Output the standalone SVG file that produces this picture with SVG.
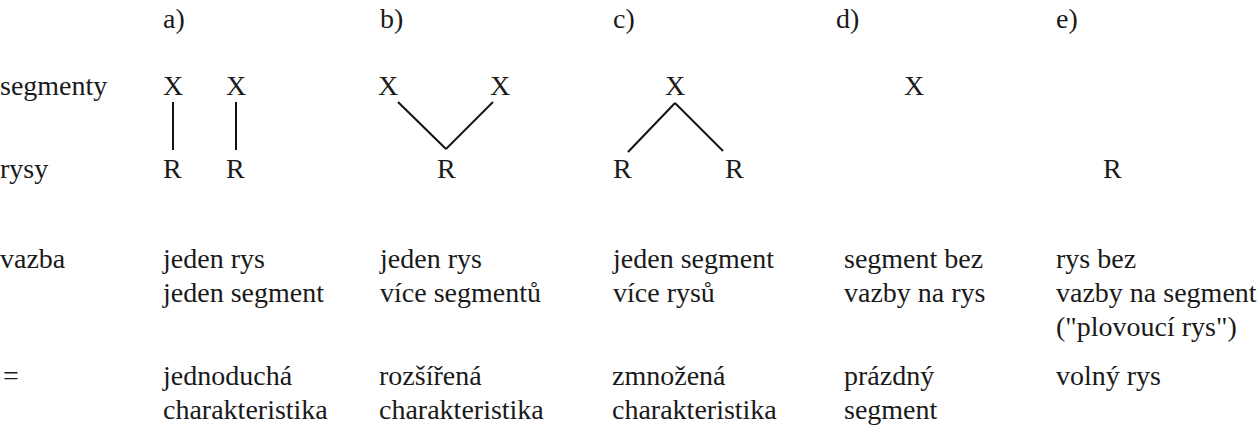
<svg xmlns="http://www.w3.org/2000/svg" width="1258" height="429" viewBox="0 0 1258 429">
<style>
text{font-size:28px;fill:#1a1a1a}
.c line{stroke:#111;stroke-width:2;fill:none}
</style>
<rect width="1258" height="429" fill="#fff"/>
<g id="labels" font-family="Times New Roman">
<text x="0" y="95">segmenty</text>
<text x="0" y="178">rysy</text>
<text x="0" y="268">vazba</text>
<text x="3" y="385">=</text>
</g>
<g id="col-a" font-family="Times New Roman">
<text x="163" y="28">a)</text>
<text x="163" y="95">X</text>
<text x="226" y="95">X</text>
<text x="163" y="178">R</text>
<text x="226" y="178">R</text>
<text x="163" y="268">jeden rys</text>
<text x="163" y="302">jeden segment</text>
<text x="163" y="385">jednoduchá</text>
<text x="163" y="419">charakteristika</text>
</g>
<g id="col-b" font-family="Times New Roman">
<text x="380" y="28">b)</text>
<text x="378" y="95">X</text>
<text x="490" y="95">X</text>
<text x="437" y="178">R</text>
<text x="380" y="268">jeden rys</text>
<text x="380" y="302">více segmentů</text>
<text x="379" y="385">rozšířená</text>
<text x="379" y="419">charakteristika</text>
</g>
<g id="col-c" font-family="Times New Roman">
<text x="613" y="28">c)</text>
<text x="665" y="95">X</text>
<text x="613" y="178">R</text>
<text x="725" y="178">R</text>
<text x="613" y="268">jeden segment</text>
<text x="613" y="302">více rysů</text>
<text x="612" y="385">zmnožená</text>
<text x="612" y="419">charakteristika</text>
</g>
<g id="col-d" font-family="Times New Roman">
<text x="836" y="28">d)</text>
<text x="904" y="95">X</text>
<text x="844" y="268">segment bez</text>
<text x="844" y="302">vazby na rys</text>
<text x="844" y="385">prázdný</text>
<text x="844" y="419">segment</text>
</g>
<g id="col-e" font-family="Times New Roman">
<text x="1056" y="28">e)</text>
<text x="1103" y="178">R</text>
<text x="1056" y="268">rys bez</text>
<text x="1056" y="302">vazby na segment</text>
<text x="1056" y="336">("plovoucí rys")</text>
<text x="1056" y="385">volný rys</text>
</g>
<g id="connectors" class="c">
<line x1="173" y1="102" x2="173" y2="150"/>
<line x1="236" y1="102" x2="236" y2="150"/>
<line x1="398" y1="102" x2="446" y2="149"/>
<line x1="446" y1="149" x2="493" y2="102"/>
<line x1="675" y1="103" x2="628" y2="152"/>
<line x1="675" y1="103" x2="723" y2="151"/>
</g>
</svg>
